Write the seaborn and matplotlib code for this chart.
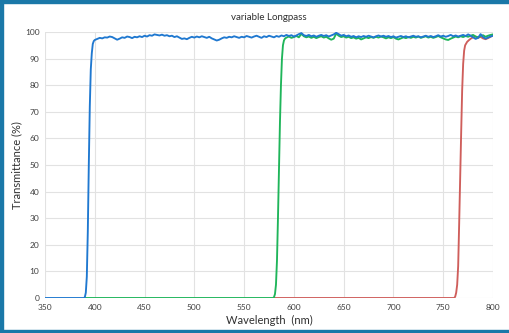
import numpy as np
import pandas as pd
import matplotlib
matplotlib.use("Agg")
import matplotlib.pyplot as plt
import seaborn as sns
from matplotlib.patches import Rectangle

# --- transmission curves (wavelength nm, transmittance %) ---
# edge of each filter: explicit points through the cut-on
blue_edge_wl = [350, 385, 389, 390, 391, 392, 393, 394, 395, 396, 397, 398, 399, 400]
blue_edge_t = [0, 0, 0, 0.3, 2, 8, 25, 50, 72, 86, 92, 95.5, 96.6, 97.0]
# plateau from 402.5 to 800 nm, 2.5 nm spacing
blue_plateau = [
    97.4, 97.8, 97.6, 98.0, 97.9, 98.3, 98.1, 97.6, 97.1, 97.5,
    98.0, 97.8, 98.3, 98.1, 97.7, 98.2, 98.0, 98.4, 98.1, 98.6,
    98.3, 98.8, 98.6, 99.1, 98.9, 98.7, 99.0, 98.6, 98.8, 98.4,
    98.6, 98.1, 98.4, 97.9, 97.4, 97.6, 97.3, 97.8, 98.2, 97.9,
    98.3, 98.0, 98.4, 98.1, 97.8, 98.2, 97.6, 97.2, 96.8, 97.1,
    97.6, 98.0, 97.8, 98.2, 98.0, 98.4, 98.1, 97.8, 98.2, 98.0,
    98.5, 98.2, 97.9, 98.3, 98.6, 98.2, 97.8, 98.4, 98.1, 98.6,
    98.3, 98.0, 98.5, 98.2, 98.7, 98.4, 98.9, 98.5, 98.8, 98.3,
    98.7, 99.2, 99.6, 98.8, 98.5, 98.9, 98.4, 98.7, 98.2, 98.6,
    98.9, 98.5, 98.8, 98.3, 98.7, 99.1, 99.7, 99.2, 98.6, 98.9,
    98.4, 98.7, 98.2, 98.5, 98.0, 98.4, 98.1, 98.5, 98.2, 98.6,
    98.3, 98.0, 98.4, 98.7, 98.3, 98.6, 98.2, 98.5, 98.1, 98.4,
    97.9, 98.2, 98.5, 98.1, 98.4, 98.0, 98.3, 98.6, 98.2, 98.4,
    98.0, 98.3, 98.6, 98.2, 98.5, 98.1, 98.4, 98.8, 98.3, 98.6,
    98.2, 98.5, 98.9, 98.4, 98.7, 98.3, 98.6, 98.9, 98.5, 99.1,
    98.6, 98.0, 97.4, 97.8, 99.2, 98.1, 97.5, 97.9, 98.3, 98.6,
]

green_edge_wl = [390, 579, 580, 581, 582, 583, 584, 585, 586, 587, 588, 589, 590, 591]
green_edge_t = [0, 0, 0.3, 1.5, 5, 14, 30, 48, 66, 80, 90, 95, 96.8, 97.5]
# plateau from 592.5 to 800 nm
green_plateau = [
    97.9, 98.3, 97.8, 98.1, 98.5, 98.0, 99.3, 98.4, 98.0, 98.3,
    97.8, 98.2, 97.7, 98.1, 98.4, 97.9, 98.2, 97.6, 97.1, 97.5,
    99.4, 98.6, 98.1, 98.4, 97.9, 98.2, 97.7, 98.0, 97.5, 97.8,
    97.2, 97.6, 98.0, 97.7, 98.1, 97.8, 98.2, 97.9, 98.3, 98.0,
    97.6, 98.0, 97.7, 98.1, 97.5, 97.2, 97.6, 98.0, 97.7, 98.1,
    97.8, 98.2, 97.9, 98.3, 97.8, 98.1, 98.4, 97.9, 98.2, 97.8,
    98.1, 98.5, 98.0, 97.6, 97.2, 97.0, 97.5, 97.9, 98.3, 98.0,
    98.4, 98.1, 98.5, 98.2, 98.6, 98.9, 98.3, 98.0, 98.5, 98.8,
    98.2, 98.6, 98.9, 99.1,
]

red_wl = [580, 761, 762, 763, 764, 765, 766, 767, 768, 769, 770, 771, 772,
          774, 776, 778, 780, 782.5, 785, 787.5, 790, 792.5, 795, 797.5, 800]
red_t = [0, 0, 0.5, 2, 5, 12, 28, 45, 62, 78, 88, 93, 95,
         96.3, 97.0, 97.6, 98.0, 98.3, 97.8, 98.2, 97.6, 97.3, 97.7, 98.2, 98.8]

x_ticks = [350, 400, 450, 500, 550, 600, 650, 700, 750, 800]
y_ticks = [0, 10, 20, 30, 40, 50, 60, 70, 80, 90, 100]

blue_wl = blue_edge_wl + list(np.linspace(402.5, 800, len(blue_plateau)))
blue_t = blue_edge_t + blue_plateau
green_wl = green_edge_wl + list(np.linspace(592.5, 800, len(green_plateau)))
green_t = green_edge_t + green_plateau

df = pd.concat([
    pd.DataFrame({"wl": red_wl, "T": red_t, "filter": "red"}),
    pd.DataFrame({"wl": green_wl, "T": green_t, "filter": "green"}),
    pd.DataFrame({"wl": blue_wl, "T": blue_t, "filter": "blue"}),
], ignore_index=True)

sns.set_style("white")
plt.rcParams["font.family"] = ["Lato", "DejaVu Sans"]

fig = plt.figure(figsize=(5.09, 3.33), dpi=100)
ax = fig.add_axes([0.0884, 0.1051, 0.8802, 0.7988])

palette = {"red": "#cf5e5b", "green": "#1fb55a", "blue": "#1f78d0"}
sns.lineplot(data=df, x="wl", y="T", hue="filter", hue_order=["red", "green", "blue"],
             palette=palette, sort=False, estimator=None, linewidth=1.35,
             legend=False, ax=ax)

ax.set_xlim(350, 800)
ax.set_ylim(0, 100)
ax.set_xticks(x_ticks)
ax.set_yticks(y_ticks)
ax.set_xticklabels([str(v) for v in x_ticks])
ax.set_yticklabels([str(v) for v in y_ticks])
ax.tick_params(axis="both", length=0, labelsize=6, labelcolor="#404040", pad=4)
ax.grid(True, color="#e2e2e2", linewidth=0.8)
ax.set_axisbelow(True)
for s in ax.spines.values():
    s.set_visible(False)

ax.set_xlabel("Wavelength  (nm)", fontsize=8, color="#303030", labelpad=3)
ax.set_ylabel("Transmittance (%)", fontsize=8, color="#303030", labelpad=2)
ax.set_title("variable Longpass", fontsize=7, color="#303030", pad=9)

# frame around the panel
edge = "#1a78a8"
fig.patches.append(Rectangle((0, 1 - 3 / 333), 1, 3 / 333, transform=fig.transFigure,
                             color=edge, zorder=10))
fig.patches.append(Rectangle((0, 0), 1, 3 / 333, transform=fig.transFigure,
                             color=edge, zorder=10))
fig.patches.append(Rectangle((0, 0), 3 / 509, 1, transform=fig.transFigure,
                             color=edge, zorder=10))

fig.savefig("out.png", dpi=100)
